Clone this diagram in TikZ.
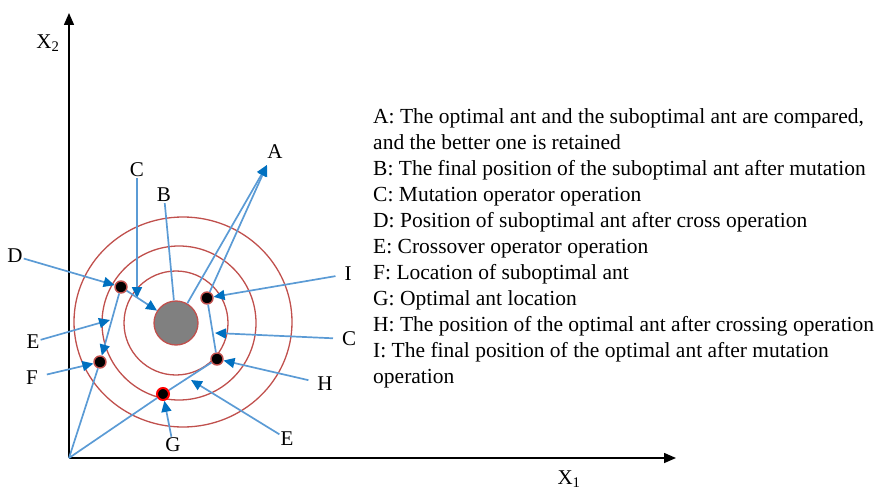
\documentclass[tikz,border=0pt]{standalone}
\usepackage{fontspec}
\setmainfont{Liberation Serif}
\usetikzlibrary{arrows.meta, positioning}
\definecolor{ringred}{RGB}{192,80,77}
\definecolor{lineblue}{RGB}{91,155,213}
\definecolor{tipblue}{RGB}{0,112,192}

\begin{document}
\begin{tikzpicture}[x=1pt, y=-1pt,
    ring/.style={draw=ringred, line width=1.3pt},
    ant/.style={circle, fill=black, draw=ringred, line width=1.4pt,
                minimum size=12pt, inner sep=0pt},
    lbl/.style={font=\fontsize{21}{24}\selectfont, inner sep=1pt},
    far/.style={outer sep=8pt},
    ptr/.style={draw=lineblue, line width=1.7pt,
                -{Triangle[length=11pt, width=10pt, color=tipblue]}},
    lnk/.style={draw=lineblue, line width=1.7pt},
]
  \useasboundingbox (0,0) rectangle (877,489);

  % ---- Axes ----
  \coordinate (O) at (69,458);
  \draw[line width=1.5pt, -{Triangle[length=12pt, width=10pt]}] (O) -- (69,13);
  \draw[line width=1.5pt, -{Triangle[length=12pt, width=10pt]}] (O) -- (676,458);
  \node[lbl] (xtwo) at (48,43) {X\textsubscript{2}};
  \node[lbl] (xone) at (569,479) {X\textsubscript{1}};

  % ---- Rings round the best position ----
  \draw[ring] (183,322) ellipse [x radius=109, y radius=105];
  \draw[ring] (179,323) circle [radius=77];
  \draw[ring] (176,323) circle [radius=52];
  \node[circle, fill=gray, draw=ringred, line width=1.3pt,
        minimum size=44pt, inner sep=0pt] (best) at (176,323) {};

  % ---- Ants ----
  \node[ant] (dD) at (121,287) {};
  \node[ant] (dI) at (207,298) {};
  \node[ant] (dF) at (100,362) {};
  \node[ant] (dH) at (217,359) {};
  \node[ant, draw=red, line width=2pt] (dG) at (163,394) {};

  % ---- Letters ----
  \node[lbl] (lA)  at (275,152) {A};
  \node[lbl] (lCt) at (137,170) {C};
  \node[lbl] (lB)  at (164,195) {B};
  \node[lbl] (lD)  at (15,256)  {D};
  \node[lbl, far] (lI)  at (348,274) {I};
  \node[lbl] (lEl) at (33,342)  {E};
  \node[lbl, far] (lCr) at (349,339) {C};
  \node[lbl, far] (lF)  at (32,378)  {F};
  \node[lbl, far] (lH)  at (325,384) {H};
  \node[lbl] (lEb) at (287,439) {E};
  \node[lbl] (lG)  at (173,445) {G};

  % ---- Arrow ends on the rings ----
  \coordinate (tipA)  at (267,165);
  \coordinate (tipCt) at (137,298);
  \coordinate (tipEl) at (110,320);
  \coordinate (tipCr) at (215,333);
  \coordinate (tipEb) at (191,380);

  % ---- Plain links ----
  \draw[lnk] (O) -- (dF);
  \draw[lnk] (O) -- (dG);
  \draw[lnk] (dG) -- (dH);
  \draw[lnk] (dI) -- (dH);
  \draw[lnk] (lB) -- (best);

  % ---- Arrows ----
  \draw[ptr] (best) -- (tipA);
  \draw[ptr] (dI) -- (tipA);
  \draw[ptr] (lCt) -- (tipCt);
  \draw[ptr] (lD) -- (dD);
  \draw[ptr] (dD) -- (best);
  \draw[ptr] (dD) -- (dF);
  \draw[ptr] (lEl) -- (tipEl);
  \draw[ptr] (lF) -- (dF);
  \draw[ptr] (lG) -- (dG);
  \draw[ptr] (lH) -- (dH);
  \draw[ptr] (lEb) -- (tipEb);
  \draw[ptr] (lCr) -- (tipCr);
  \draw[ptr] (lI) -- (dI);

  % ---- Legend ----
  \node[anchor=north west, align=left, inner sep=0pt,
        font=\fontsize{21.5}{26}\selectfont] (legend) at (373,108)
    {A: The optimal ant and the suboptimal ant are compared,\\
     and the better one is retained\\
     B: The final position of the suboptimal ant after mutation\\
     C: Mutation operator operation\\
     D: Position of suboptimal ant after cross operation\\
     E: Crossover operator operation\\
     F: Location of suboptimal ant\\
     G: Optimal ant location\\
     H: The position of the optimal ant after crossing operation\\
     I: The final position of the optimal ant after mutation\\
     operation};
\end{tikzpicture}
\end{document}
